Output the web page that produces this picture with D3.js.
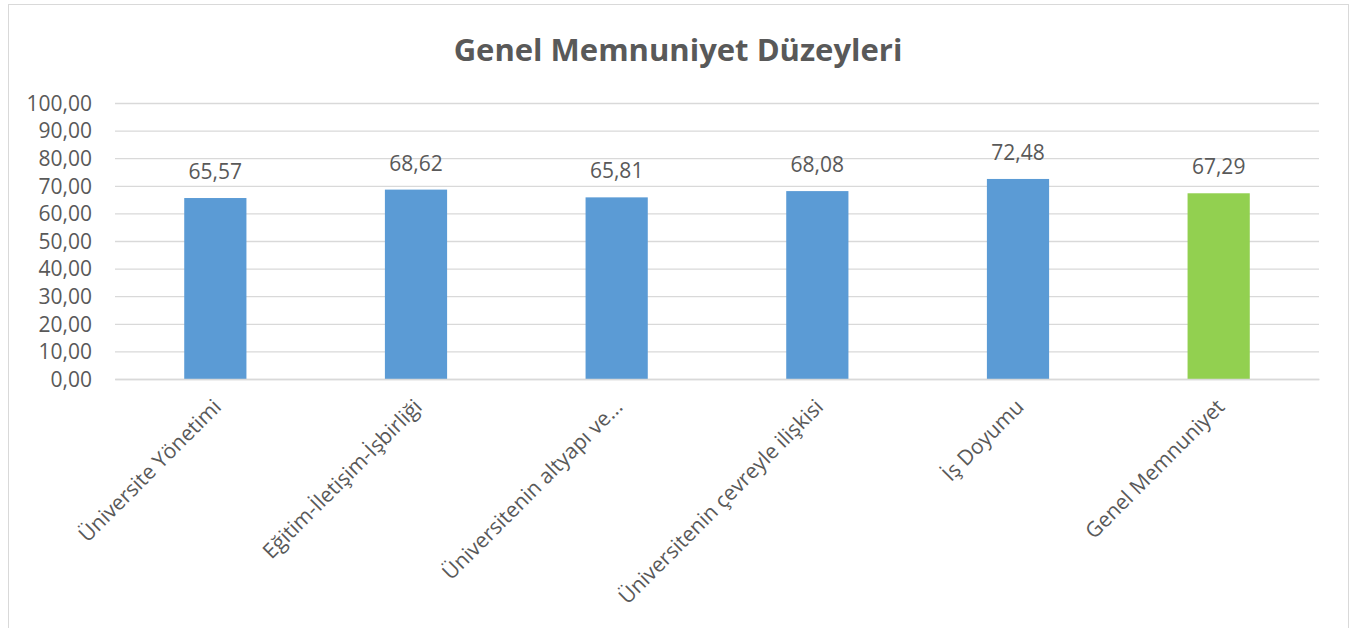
<!DOCTYPE html>
<html><head><meta charset="utf-8">
<script src="https://cdn.jsdelivr.net/npm/d3@7"></script>
<style>
html,body{margin:0;padding:0;background:#fff;}
svg text{font-family:"Open Sans",sans-serif;fill:#595959;}
</style></head>
<body><svg id="c" width="1359" height="628"></svg>
<script>
const categories = ["Üniversite Yönetimi","Eğitim-İletişim-İşbirliği","Üniversitenin altyapı ve...","Üniversitenin çevreyle ilişkisi","İş Doyumu","Genel Memnuniyet"];
const values = [65.57, 68.62, 65.81, 68.08, 72.48, 67.29];
const barColors = ["#5b9bd5","#5b9bd5","#5b9bd5","#5b9bd5","#5b9bd5","#92d050"];
const yTicks = [0,10,20,30,40,50,60,70,80,90,100];
const title = "Genel Memnuniyet Düzeyleri";

const svg = d3.select("#c");
const fmt = v => d3.format(".2f")(v).replace(".", ",");

svg.append("rect").attr("x",8.5).attr("y",4.5).attr("width",1340).attr("height",640)
  .attr("fill","#fff").attr("stroke","#d9d9d9").attr("stroke-width",1);

svg.append("text").attr("x",678).attr("y",61).attr("text-anchor","middle")
  .style("font-size","31px").style("font-weight","bold").text(title);

const x = d3.scaleBand().domain(categories).range([115,1319]).paddingInner(0.69).paddingOuter(0.345);
const y = d3.scaleLinear().domain([0,100]).range([379,103]);

const yAxis = svg.append("g").attr("transform","translate(115,0)")
  .call(d3.axisLeft(y).tickValues(yTicks).tickSize(-1204).tickFormat(fmt).tickPadding(23));
yAxis.select(".domain").remove();
yAxis.selectAll(".tick line").attr("stroke","#d9d9d9").attr("stroke-width",1.3);
yAxis.selectAll(".tick text").style("font-size","21px").attr("fill","#595959").attr("dy","0.35em");

svg.append("g").selectAll("rect").data(values).join("rect")
  .attr("x",(d,i)=>x(categories[i])).attr("width",x.bandwidth())
  .attr("y",d=>y(d)).attr("height",d=>y(0)-y(d))
  .attr("fill",(d,i)=>barColors[i]);

svg.append("g").selectAll("text").data(values).join("text")
  .attr("x",(d,i)=>x(categories[i])+x.bandwidth()/2).attr("y",d=>y(d)-19)
  .attr("text-anchor","middle").style("font-size","21px").text(d=>fmt(d));

const xAxis = svg.append("g").attr("transform","translate(0,379)")
  .call(d3.axisBottom(x).tickSize(0).tickFormat(""));
xAxis.select(".domain").attr("stroke","#d9d9d9").attr("stroke-width",1.3);

svg.append("g").selectAll("text").data(categories).join("text")
  .attr("transform",d=>`translate(${x(d)+x.bandwidth()/2+2},${379+24}) rotate(-45)`)
  .attr("text-anchor","end").attr("dy","0.35em").style("font-size","21px").text(d=>d);
</script></body></html>
